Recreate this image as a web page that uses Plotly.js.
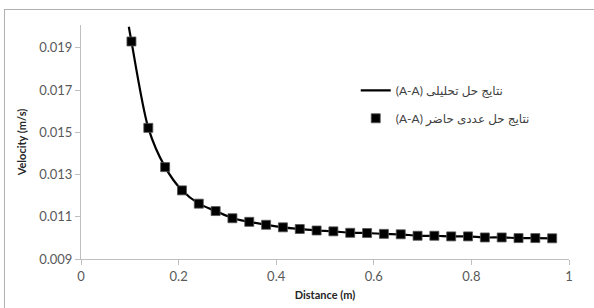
<!DOCTYPE html>
<html>
<head>
<meta charset="utf-8">
<script src="https://cdn.plot.ly/plotly-3.0.1.min.js"></script>
<style>
html,body{margin:0;padding:0;background:#fff;}
#wrap{position:relative;width:594px;height:308px;overflow:hidden;}
#chart{position:absolute;left:0;top:0;width:594px;height:308px;}
#frame{position:absolute;left:4px;top:9px;width:620px;height:330px;border:1px solid #b0b0b0;pointer-events:none;}
</style>
</head>
<body>
<div id="wrap"><div id="chart"></div><div id="frame"></div></div>
<script>
// Numerical solution (markers)
const numX = [0.1034, 0.1379, 0.1724, 0.2069, 0.2414, 0.2759, 0.3103, 0.3448, 0.3793, 0.4138,
              0.4483, 0.4828, 0.5172, 0.5517, 0.5862, 0.6207, 0.6552, 0.6897, 0.7241, 0.7586,
              0.7931, 0.8276, 0.8621, 0.8966, 0.9310, 0.9655];
const numY = [0.0193, 0.01521, 0.01335, 0.01225, 0.01162, 0.01127, 0.01093, 0.01076, 0.01062, 0.0105,
              0.01042, 0.01035, 0.01031, 0.01024, 0.01023, 0.01019, 0.01017, 0.0101, 0.0101, 0.01007,
              0.01007, 0.01002, 0.01002, 0.00999, 0.00999, 0.00998];
// Analytical solution (line)
const anaX = [0.098, 0.1034, 0.1379, 0.1724, 0.2069, 0.2414, 0.2759, 0.3103, 0.3448, 0.3793, 0.4138,
              0.4483, 0.4828, 0.5172, 0.5517, 0.5862, 0.6207, 0.6552, 0.6897, 0.7241, 0.7586,
              0.7931, 0.8276, 0.8621, 0.8966, 0.9310, 0.9655];
const anaY = [0.0200, 0.0193, 0.01521, 0.01335, 0.01225, 0.01162, 0.01127, 0.01093, 0.01076, 0.01062, 0.0105,
              0.01042, 0.01035, 0.01031, 0.01024, 0.01023, 0.01019, 0.01017, 0.0101, 0.0101, 0.01007,
              0.01007, 0.01002, 0.01002, 0.00999, 0.00999, 0.00998];
const xTicks = [0, 0.2, 0.4, 0.6, 0.8, 1];
const xTickText = ['0', '0.2', '0.4', '0.6', '0.8', '1'];
const yTicks = [0.009, 0.011, 0.013, 0.015, 0.017, 0.019];
const yTickText = ['0.009', '0.011', '0.013', '0.015', '0.017', '0.019'];
const nameAna = '(A-A) نتایج حل تحلیلی';
const nameNum = '(A-A) نتایج حل عددی حاضر';

const FONT = 'Lato, "Open Sans", "DejaVu Sans", sans-serif';

const traces = [
  {x: anaX, y: anaY, name: nameAna, mode: 'lines', type: 'scatter', legendgroup: 'a',
   line: {color: '#000000', width: 2.2, shape: 'spline', smoothing: 0.8}},
  {x: numX, y: numY, name: nameNum, mode: 'markers', type: 'scatter', legendgroup: 'b',
   marker: {symbol: 'square', size: 9, color: '#000000', line: {color: '#555555', width: 0.8}}}
];

const layout = {
  width: 594, height: 308,
  margin: {l: 80.5, r: 24.5, t: 25, b: 48.5},
  paper_bgcolor: '#ffffff', plot_bgcolor: '#ffffff',
  font: {family: FONT, color: '#595959', size: 13},
  showlegend: true,
  legend: {x: 0.563, y: 0.783, xanchor: 'left', yanchor: 'top', tracegroupgap: 9,
           bgcolor: 'rgba(0,0,0,0)', font: {family: FONT, size: 12, color: '#404040'}},
  xaxis: {range: [0, 1], tickvals: xTicks, ticktext: xTickText, showgrid: false, zeroline: false,
          showline: true, linecolor: '#bfbfbf', linewidth: 1, ticks: 'outside', ticklen: 5,
          tickcolor: '#bfbfbf', tickfont: {size: 13, color: '#595959'},
          title: {text: '<b>Distance (m)</b>', font: {size: 11, color: '#262626'}, standoff: 8}},
  yaxis: {range: [0.009, 0.02008], tickvals: yTicks, ticktext: yTickText, showgrid: false, zeroline: false,
          showline: true, linecolor: '#bfbfbf', linewidth: 1, ticks: 'outside', ticklen: 5,
          tickcolor: '#bfbfbf', tickfont: {size: 13, color: '#595959'},
          title: {text: '<b>Velocity (m/s)</b>', font: {size: 11, color: '#262626'}, standoff: 10}}
};

Plotly.newPlot('chart', traces, layout, {displayModeBar: false, staticPlot: true});
</script>
</body>
</html>
